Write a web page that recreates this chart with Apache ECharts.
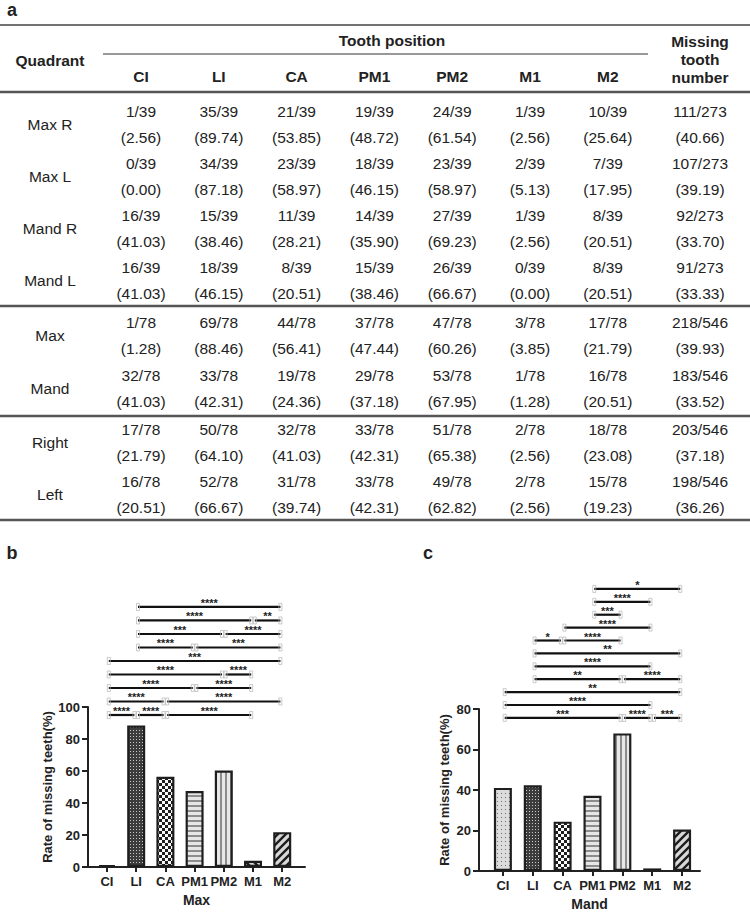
<!DOCTYPE html>
<html>
<head>
<meta charset="utf-8">
<script src="https://cdn.jsdelivr.net/npm/echarts@6/dist/echarts.min.js"></script>
<style>
html,body{margin:0;padding:0;background:#fff;}
#main{width:750px;height:912px;}
</style>
</head>
<body>
<div id="main"></div>
<script>
// ---------- data ----------
const quadrants = ['Max R', 'Max L', 'Mand R', 'Mand L', 'Max', 'Mand', 'Right', 'Left'];
const teeth = ['CI', 'LI', 'CA', 'PM1', 'PM2', 'M1', 'M2'];
const missingCounts = [
  [1, 35, 21, 19, 24, 1, 10],
  [0, 34, 23, 18, 23, 2, 7],
  [16, 15, 11, 14, 27, 1, 8],
  [16, 18, 8, 15, 26, 0, 8],
  [1, 69, 44, 37, 47, 3, 17],
  [32, 33, 19, 29, 53, 1, 16],
  [17, 50, 32, 33, 51, 2, 18],
  [16, 52, 31, 33, 49, 2, 15]
];
const toothTotals = [39, 39, 39, 39, 78, 78, 78, 78];
const missingPct = [
  ['2.56', '89.74', '53.85', '48.72', '61.54', '2.56', '25.64'],
  ['0.00', '87.18', '58.97', '46.15', '58.97', '5.13', '17.95'],
  ['41.03', '38.46', '28.21', '35.90', '69.23', '2.56', '20.51'],
  ['41.03', '46.15', '20.51', '38.46', '66.67', '0.00', '20.51'],
  ['1.28', '88.46', '56.41', '47.44', '60.26', '3.85', '21.79'],
  ['41.03', '42.31', '24.36', '37.18', '67.95', '1.28', '20.51'],
  ['21.79', '64.10', '41.03', '42.31', '65.38', '2.56', '23.08'],
  ['20.51', '66.67', '39.74', '42.31', '62.82', '2.56', '19.23']
];
const rowMissing = [111, 107, 92, 91, 218, 183, 203, 198];
const rowTotals = [273, 273, 273, 273, 546, 546, 546, 546];
const rowPct = ['40.66', '39.19', '33.70', '33.33', '39.93', '33.52', '37.18', '36.26'];

const maxRates = [1.28, 88.46, 56.41, 47.44, 60.26, 3.85, 21.79];
const mandRates = [41.03, 42.31, 24.36, 37.18, 67.95, 1.28, 20.51];
const maxTicks = [0, 20, 40, 60, 80, 100];
const mandTicks = [0, 20, 40, 60, 80];

// significance brackets: [fromIndex, toIndex, level (0 = lowest)]
const maxBrackets = [
  [1, 6, 8],
  [1, 5, 7], [5, 6, 7],
  [1, 4, 6], [4, 6, 6],
  [1, 3, 5], [3, 6, 5],
  [0, 6, 4],
  [0, 4, 3], [4, 5, 3],
  [0, 3, 2], [3, 5, 2],
  [0, 2, 1], [2, 6, 1],
  [0, 1, 0], [1, 2, 0], [2, 5, 0]
];
const maxBracketLabels = [
  '****',
  '****', '**',
  '***', '****',
  '****', '***',
  '***',
  '****', '****',
  '****', '****',
  '****', '****',
  '****', '****', '****'
];
const mandBrackets = [
  [3, 6, 10],
  [3, 5, 9],
  [3, 4, 8],
  [2, 5, 7],
  [1, 2, 6], [2, 4, 6],
  [1, 6, 5],
  [1, 5, 4],
  [1, 4, 3], [4, 6, 3],
  [0, 6, 2],
  [0, 5, 1],
  [0, 4, 0], [4, 5, 0], [5, 6, 0]
];
const mandBracketLabels = [
  '*',
  '****',
  '***',
  '****',
  '*', '****',
  '**',
  '****',
  '**', '****',
  '**',
  '****',
  '***', '****', '***'
];

// ---------- style / layout ----------
const FONT = '"Liberation Sans", Arial, Helvetica, sans-serif';
const INK = '#222';

function makePattern(w, h, draw) {
  const c = document.createElement('canvas');
  c.width = w; c.height = h;
  const ctx = c.getContext('2d');
  draw(ctx, w, h);
  return { image: c, repeat: 'repeat', imageWidth: w, imageHeight: h };
}
function diag(dir) {
  return makePattern(8, 8, (ctx) => {
    ctx.fillStyle = '#d9d9d9'; ctx.fillRect(0, 0, 8, 8);
    ctx.strokeStyle = '#1e1e1e'; ctx.lineWidth = 2.4;
    ctx.beginPath();
    if (dir > 0) {
      ctx.moveTo(-2, 10); ctx.lineTo(10, -2);
      ctx.moveTo(-6, 6); ctx.lineTo(6, -6);
      ctx.moveTo(2, 14); ctx.lineTo(14, 2);
    } else {
      ctx.moveTo(-2, -2); ctx.lineTo(10, 10);
      ctx.moveTo(-6, 2); ctx.lineTo(6, 14);
      ctx.moveTo(2, -6); ctx.lineTo(14, 6);
    }
    ctx.stroke();
  });
}
const patterns = [
  makePattern(4, 4, (ctx) => { ctx.fillStyle = '#dcdcdc'; ctx.fillRect(0, 0, 4, 4); ctx.fillStyle = '#707070'; ctx.fillRect(1, 1, 1, 1); }),
  makePattern(3, 3, (ctx) => { ctx.fillStyle = '#3c3c3c'; ctx.fillRect(0, 0, 3, 3); ctx.fillStyle = '#c8c8c8'; ctx.fillRect(1, 1, 1, 1); }),
  makePattern(6, 6, (ctx) => { ctx.fillStyle = '#fafafa'; ctx.fillRect(0, 0, 6, 6); ctx.fillStyle = '#1e1e1e'; ctx.fillRect(0, 0, 3, 3); ctx.fillRect(3, 3, 3, 3); }),
  makePattern(4, 5, (ctx) => { ctx.fillStyle = '#e6e6e6'; ctx.fillRect(0, 0, 4, 5); ctx.fillStyle = '#8c8c8c'; ctx.fillRect(0, 0, 4, 2); }),
  makePattern(5, 4, (ctx) => { ctx.fillStyle = '#e8e8e8'; ctx.fillRect(0, 0, 5, 4); ctx.fillStyle = '#8c8c8c'; ctx.fillRect(0, 0, 2, 4); }),
  diag(-1),
  diag(1)
];

// ---------- table (panel a) ----------
const colX = teeth.map((t, i) => 141 + 77.8 * i);
const quadX = 50, totalX = 700;
const headTop = 25, headBottom = 92, bodyBottom = 520;
// row centres: three groups separated by rules
const groupRules = [306, 416];
const rowCenters = [124, 176, 228, 280, 335, 388, 442, 494];
const graphics = [];
function txt(s, x, y, size, bold) {
  graphics.push({
    type: 'text',
    style: {
      text: s, x: x, y: y,
      fill: INK, fontSize: size, fontWeight: bold ? 'bold' : 'normal', fontFamily: FONT,
      align: 'center', verticalAlign: 'middle', textAlign: 'center', textVerticalAlign: 'middle'
    }
  });
}
function hline(x1, x2, y, w, color) {
  graphics.push({ type: 'line', shape: { x1: x1, y1: y, x2: x2, y2: y }, style: { stroke: color, lineWidth: w } });
}
const TS = 15.5;
txt('a', 12, 10, 18, true);
hline(0, 750, headTop, 1.5, '#444');
txt('Quadrant', quadX, 60, TS, true);
txt('Tooth position', 392, 40, TS, true);
hline(103, 648, 54, 1.2, '#333');
teeth.forEach((t, i) => txt(t, colX[i], 76, TS, true));
['Missing', 'tooth', 'number'].forEach((s, i) => txt(s, totalX, 41 + 18 * i, TS, true));
hline(0, 750, headBottom, 2.5, '#555');
quadrants.forEach((q, r) => {
  const cy = rowCenters[r];
  txt(q, quadX, cy, TS, false);
  teeth.forEach((t, i) => {
    txt(missingCounts[r][i] + '/' + toothTotals[r], colX[i], cy - 13, TS, false);
    txt('(' + missingPct[r][i] + ')', colX[i], cy + 13, TS, false);
  });
  txt(rowMissing[r] + '/' + rowTotals[r], totalX, cy - 13, TS, false);
  txt('(' + rowPct[r] + ')', totalX, cy + 13, TS, false);
});
groupRules.forEach(y => hline(0, 750, y, 2.5, '#555'));
hline(0, 750, bodyBottom, 2.5, '#555');
txt('b', 12, 553, 18, true);
txt('c', 428, 553, 18, true);

// ---------- charts (panels b, c) ----------
function bracketSeries(grid, brackets, labels, base, step) {
  return {
    type: 'custom',
    xAxisIndex: grid, yAxisIndex: grid,
    clip: false,
    silent: true,
    z: 5,
    data: brackets.map(b => [b[0], b[1], base + step * b[2]]),
    encode: { x: [0, 1], y: 2 },
    renderItem: function (params, api) {
      const yv = api.value(2);
      const a = api.coord([api.value(0), yv]);
      const b = api.coord([api.value(1), yv]);
      const x1 = a[0] + 1.8, x2 = b[0] - 1.8, y = a[1];
      return {
        type: 'group',
        children: [
          { type: 'line', shape: { x1: x1, y1: y, x2: x2, y2: y }, style: { stroke: '#111', lineWidth: 2.2 } },
          { type: 'rect', shape: { x: x1 - 1.5, y: y - 3.5, width: 3, height: 7 }, style: { fill: 'none', stroke: '#b4b4b4', lineWidth: 0.7 } },
          { type: 'rect', shape: { x: x2 - 1.5, y: y - 3.5, width: 3, height: 7 }, style: { fill: 'none', stroke: '#b4b4b4', lineWidth: 0.7 } },
          { type: 'text', style: {
              text: labels[params.dataIndex], x: (x1 + x2) / 2, y: y - 4,
              fill: '#222', fontSize: 11, fontWeight: 'bold', fontFamily: FONT,
              align: 'center', verticalAlign: 'middle', textAlign: 'center', textVerticalAlign: 'middle'
          } }
        ]
      };
    }
  };
}
function xAxisFor(grid, min, max, name) {
  const idx = teeth.map((t, i) => i);
  return {
    type: 'value', gridIndex: grid, min: min, max: max,
    axisLine: { show: true, onZero: false, lineStyle: { color: INK, width: 2 } },
    axisTick: { show: true, customValues: idx, length: 5, lineStyle: { color: INK, width: 2 } },
    axisLabel: { show: true, customValues: idx, formatter: v => teeth[Math.round(v)], color: INK, fontSize: 13, fontWeight: 'bold', fontFamily: FONT, margin: 8 },
    splitLine: { show: false },
    name: name, nameLocation: 'middle', nameGap: 26,
    nameTextStyle: { color: INK, fontSize: 14, fontWeight: 'bold', fontFamily: FONT }
  };
}
function yAxisFor(grid, ticks, gap) {
  return {
    type: 'value', gridIndex: grid, min: ticks[0], max: ticks[ticks.length - 1], interval: ticks[1] - ticks[0],
    axisLine: { show: true, onZero: false, lineStyle: { color: INK, width: 2 } },
    axisTick: { show: true, length: 6, lineStyle: { color: INK, width: 2 } },
    axisLabel: { color: INK, fontSize: 13, fontWeight: 'bold', fontFamily: FONT, margin: 8 },
    splitLine: { show: false },
    name: 'Rate of missing teeth(%)', nameLocation: 'middle', nameGap: gap,
    nameTextStyle: { color: INK, fontSize: 13, fontWeight: 'bold', fontFamily: FONT }
  };
}
function barSeries(grid, values) {
  return {
    type: 'bar', xAxisIndex: grid, yAxisIndex: grid, barWidth: 18, silent: true,
    data: values.map((v, i) => ({ value: [i, v], itemStyle: { color: patterns[i], borderColor: '#1e1e1e', borderWidth: 2.2 } }))
  };
}

const chart = echarts.init(document.getElementById('main'), null, { renderer: 'svg', width: 750, height: 912 });
chart.setOption({
  animation: false,
  backgroundColor: '#fff',
  grid: [
    { left: 88, top: 707, width: 217, height: 160, outerBoundsMode: 'none', containLabel: false },
    { left: 479, top: 709, width: 221, height: 162, outerBoundsMode: 'none', containLabel: false }
  ],
  xAxis: [xAxisFor(0, -0.65, 6.78, 'Max'), xAxisFor(1, -0.8, 6.6, 'Mand')],
  yAxis: [yAxisFor(0, maxTicks, 32), yAxisFor(1, mandTicks, 28)],
  series: [
    barSeries(0, maxRates),
    barSeries(1, mandRates),
    bracketSeries(0, maxBrackets, maxBracketLabels, 95, 8.44),
    bracketSeries(1, mandBrackets, mandBracketLabels, 75.6, 6.37)
  ],
  graphic: graphics
});
</script>
</body>
</html>
